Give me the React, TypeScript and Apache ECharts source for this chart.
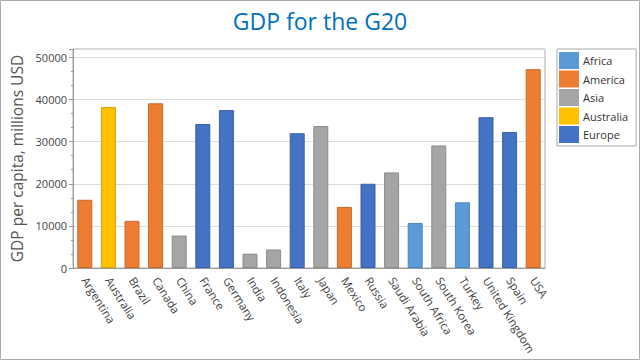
import React, { useEffect, useRef } from "react";
import * as echarts from "echarts";

const categories = ["Argentina","Australia","Brazil","Canada","China","France","Germany","India","Indonesia","Italy","Japan","Mexico","Russia","Saudi Arabia","South Africa","South Korea","Turkey","United Kingdom","Spain","USA"];
const gdpValues = [16200,38200,11200,39100,7700,34200,37500,3400,4400,32000,33700,14500,20000,22700,10700,29100,15600,35800,32300,47200];
const regionOf = ["America","Australia","America","America","Asia","Europe","Europe","Asia","Asia","Europe","Asia","America","Europe","Asia","Africa","Asia","Africa","Europe","Europe","America"];
const regions = ["Africa","America","Asia","Australia","Europe"];
const regionColors = ["#5B9BD5","#ED7D31","#A5A5A5","#FFC000","#4472C4"];
const regionBorders = ["#4A86BE","#C9682A","#8C8C8C","#D9A300","#3A61A8"];
const yTicks = [0,10000,20000,30000,40000,50000];

const FONT = "'Open Sans', 'Noto Sans', sans-serif";

export default function App() {
  const ref = useRef<HTMLDivElement>(null);
  useEffect(() => {
    const chart = echarts.init(ref.current!, null, { renderer: "svg" });
    const series = regions.map((r, ri) => ({
      name: r,
      type: "bar",
      stack: "all",
      barWidth: 15,
      itemStyle: { color: regionColors[ri], borderColor: regionBorders[ri], borderWidth: 1 },
      data: gdpValues.map((v, i) => (regionOf[i] === r ? v : null)),
    }));
    const minorCats = Array.from({ length: categories.length * 4 }, (_, i) => "m" + i);
    chart.setOption({
      animation: false,
      backgroundColor: "#fff",
      textStyle: { fontFamily: FONT },
      title: {
        text: "GDP for the G20",
        left: "center",
        top: 4,
        textStyle: { color: "#0070C0", fontSize: 23, fontWeight: "normal", fontFamily: FONT },
      },
      legend: {
        orient: "vertical",
        left: 557,
        top: 49,
        icon: "rect",
        itemWidth: 20,
        itemHeight: 17,
        itemGap: 1.5,
        padding: [3, 8, 3, 2],
        borderColor: "#aaa",
        borderWidth: 1,
        itemStyle: { borderWidth: 0 },
        textStyle: { fontSize: 11, color: "#333", fontFamily: FONT, padding: [0, 0, 0, -1] },
        data: regions,
      },
      grid: {
        left: 73, right: 95, top: 49, bottom: 92,
        show: true, borderColor: "#aaa", borderWidth: 1, backgroundColor: "#fff",
      },
      xAxis: [
        {
          type: "category",
          data: categories,
          axisLine: { lineStyle: { color: "#999" } },
          axisTick: { alignWithLabel: true, interval: 0, length: 5, lineStyle: { color: "#999" } },
          axisLabel: { interval: 0, rotate: -58, color: "#444", fontSize: 11.5, margin: 10, fontFamily: FONT },
        },
        {
          type: "category",
          data: minorCats,
          position: "bottom",
          axisLine: { show: false },
          axisTick: { interval: 0, length: 3, lineStyle: { color: "#999" } },
          axisLabel: { show: false },
        },
      ],
      yAxis: {
        type: "value",
        min: 0,
        max: 52000,
        interval: 10000,
        name: "GDP per capita, millions USD",
        nameLocation: "middle",
        nameGap: 48,
        nameTextStyle: { fontSize: 15.5, color: "#555", fontFamily: FONT },
        axisLine: { show: true, lineStyle: { color: "#999" } },
        axisTick: { show: true, length: 4, lineStyle: { color: "#999" } },
        minorTick: { show: true, splitNumber: 3, length: 2, lineStyle: { color: "#999" } },
        axisLabel: {
          color: "#444", fontSize: 11, margin: 6, fontFamily: FONT, showMaxLabel: false,
          formatter: (v: number) => (yTicks.includes(v) ? String(v) : ""),
        },
        splitLine: { lineStyle: { color: "#ddd" } },
      },
      graphic: [
        { type: "rect", shape: { x: 0.5, y: 0.5, width: 639, height: 359 }, style: { fill: "none", stroke: "#aaa", lineWidth: 1 }, silent: true },
      ],
      series,
    });
    return () => chart.dispose();
  }, []);
  return <div ref={ref} style={{ position: "fixed", left: 0, top: 0, width: 640, height: 360 }} />;
}
